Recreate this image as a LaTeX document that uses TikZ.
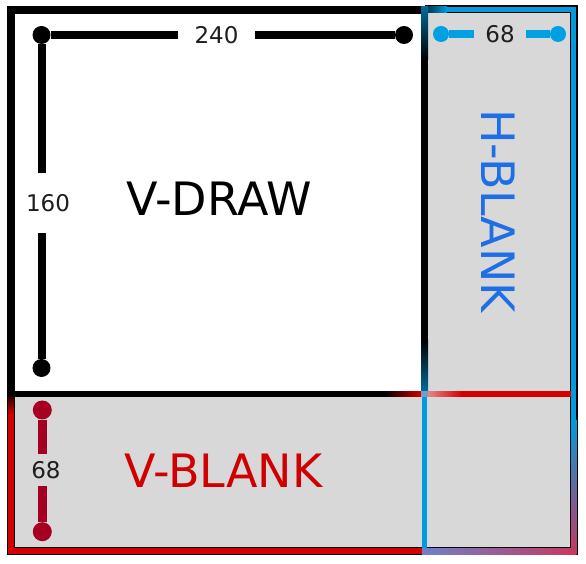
\documentclass[tikz,border=0pt]{standalone}
\usepackage{fontspec}
\setmainfont{DejaVu Sans}
\definecolor{cgray}{RGB}{216,216,216}
\definecolor{cblue}{RGB}{0,155,222}
\definecolor{cred}{RGB}{212,0,0}
\definecolor{ctxtred}{RGB}{208,0,0}
\definecolor{ctxtblue}{RGB}{30,110,230}
\definecolor{cdimblue}{RGB}{0,160,227}
\definecolor{cdimred}{RGB}{165,0,33}
\definecolor{cnum}{RGB}{30,30,30}
\definecolor{cpink}{RGB}{200,55,95}
\definecolor{cpurple}{RGB}{110,128,200}
\definecolor{clightpink}{RGB}{232,160,165}
\tikzset{
  bigtxt/.style={font=\fontsize{46}{46}\selectfont, inner sep=0},
  numlbl/.style={font=\fontsize{23}{23}\selectfont, text=cnum, inner sep=0},
  dimk/.style={line width=8, draw=black},
  dotk/.style={circle, fill=black, inner sep=0, minimum size=18},
  dimb/.style={line width=7.5, draw=cdimblue},
  dotb/.style={circle, fill=cdimblue, inner sep=0, minimum size=16},
  dimr/.style={line width=9, draw=cdimred},
  dotr/.style={circle, fill=cdimred, inner sep=0, minimum size=19},
  frame/.style={line width=8, draw=black},
}
\begin{document}
\begin{tikzpicture}[x=1pt,y=1pt]
\useasboundingbox (0,0) rectangle (586,564);
\fill[white] (0,0) rectangle (586,564);
% gray areas
\fill[cgray] (424.7,554.5) rectangle (573.5,12.5);
\fill[cgray] (10.5,170) rectangle (424.7,13);
% black frames
\draw[frame] (10.5,170) -- (10.5,553.5) -- (424.7,553.5);
\draw[frame] (424.7,554.5) -- (573.5,554.5) -- (573.5,12.5) -- (424.7,12.5);
\draw[frame] (11,170) -- (11,13) -- (573.5,13);
% red rectangle strips
\shade[top color=black, bottom color=cred] (8.25,172.75) rectangle (13.75,150);
\fill[cred] (8.25,150) rectangle (13.75,10.25);
\fill[cred] (8.25,15.75) rectangle (424,10.25);
\fill[black] (6.5,172.75) rectangle (385,167.25);
\shade[left color=black, right color=cred] (385,172.75) rectangle (421.2,167.25);
\shade[left color=clightpink, right color=cred] (421.2,172.75) rectangle (462,167.25);
\fill[cred] (462,172.75) rectangle (571,167.25);
% blue rectangle strips
\shade[left color=black!85!cblue, right color=cblue] (421.2,557.25) rectangle (447,551.75);
\fill[cblue] (447,557.25) rectangle (576.25,551.75);
\shade[top color=cblue!70!black, bottom color=black] (421.2,557.25) rectangle (428.2,504);
\fill[black] (421.2,504) rectangle (428.2,224);
\shade[top color=black, bottom color=cblue!70!black] (421.2,224) rectangle (428.2,172.75);
\fill[cblue!50!clightpink] (421.2,172.75) rectangle (428.2,167.25);
\fill[cblue] (421.95,167.25) rectangle (427.45,15.25);
\fill[cblue] (570.75,557.25) rectangle (576.25,144);
\shade[top color=cblue, bottom color=cpink] (570.75,144) rectangle (576.25,9.75);
\shade[left color=cpurple, right color=cpink] (421.95,15.25) rectangle (576.25,9.75);
% dimension 240
\node[dotk] (k1) at (41.5,529) {};
\node[dotk] (k2) at (404,529) {};
\node[dotk] (k3) at (41.5,196) {};
\node[numlbl, minimum width=77] (n240) at (216.5,529) {240};
\draw[dimk] (k1) -- (n240);
\draw[dimk] (n240) -- (k2);
% dimension 160
\node[numlbl, minimum height=59] (n160) at (48,361) {160};
\draw[dimk] (k1) -- (k1 |- n160.north);
\draw[dimk] (k1 |- n160.south) -- (k3);
% dimension 68 blue
\node[dotb] (b1) at (441,530) {};
\node[dotb] (b2) at (558,530) {};
\node[numlbl, minimum width=51] (nb) at (500,530) {68};
\draw[dimb] (b1) -- (nb);
\draw[dimb] (nb) -- (b2);
% dimension 68 red
\node[dotr] (r1) at (42.3,154) {};
\node[dotr] (r2) at (42.3,32.3) {};
\node[numlbl, minimum height=31] (nr) at (46,94) {68};
\draw[dimr] (r1) -- (r1 |- nr.north);
\draw[dimr] (r1 |- nr.south) -- (r2);
% big labels
\node[bigtxt] (vdraw) at (219,365.5) {V-DRAW};
\node[bigtxt, text=ctxtred] (vblank) at (223.5,93) {V-BLANK};
\node[bigtxt, text=ctxtblue, rotate=-90] (hblank) at (498.5,353) {H-BLANK};
\end{tikzpicture}
\end{document}
